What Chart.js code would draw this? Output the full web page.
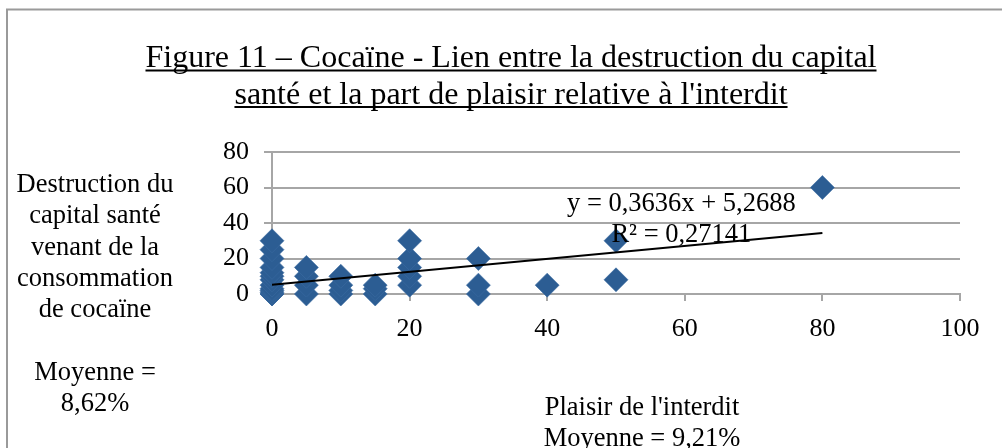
<!DOCTYPE html>
<html>
<head>
<meta charset="utf-8">
<script src="https://cdn.jsdelivr.net/npm/chart.js@4/dist/chart.umd.min.js"></script>
<style>
  html, body { margin: 0; padding: 0; background: #fff; }
  #wrap { width: 1002px; height: 448px; position: relative; }
</style>
</head>
<body>
<div id="wrap"><canvas id="chart" width="1002" height="448"></canvas></div>
<script>
// Plaisir de l'interdit (x) vs destruction du capital santé (y)
const plaisirX = [0, 0, 0, 0, 0, 0, 0, 0, 0, 0, 0, 0, 0,
                  5, 5, 5, 5,
                  10, 10, 10, 10,
                  15, 15, 15,
                  20, 20, 20, 20, 20,
                  30, 30, 30,
                  40,
                  50, 50,
                  80];
const destructionY = [0, 0, 1, 2, 3, 5, 8, 10, 12, 15, 20, 25, 30,
                      0, 5, 10, 15,
                      0, 2, 5, 10,
                      0, 3, 5,
                      5, 10, 15, 20, 30,
                      0, 5, 20,
                      5,
                      8, 30,
                      60];
const xTicks = [0, 20, 40, 60, 80, 100];
const yTicks = [0, 20, 40, 60, 80];

// trendline as printed by the spreadsheet
const trendSlope = 0.3636;
const trendIntercept = 5.2688;
const trendLabel = ['y = 0,3636x + 5,2688', 'R\u00b2 = 0,27141'];

const titleLines = ['Figure 11 \u2013 Coca\u00efne - Lien entre la destruction du capital',
                    'sant\u00e9 et la part de plaisir relative \u00e0 l\'interdit'];
const yTitleLines = ['Destruction du', 'capital sant\u00e9', 'venant de la', 'consommation',
                     'de coca\u00efne', '', 'Moyenne =', '8,62%'];
const xTitleLines = ['Plaisir de l\'interdit', 'Moyenne = 9,21%'];

const serif = '"Liberation Serif", "Times New Roman", serif';
const gridColor = '#a6a6a6';
const markerColor = '#2c5d93';

const points = plaisirX.map((x, i) => ({ x: x, y: destructionY[i] }));
const xMin = Math.min(...plaisirX);
const xMax = Math.max(...plaisirX);
const trendPoints = [xMin, xMax].map(x => ({ x: x, y: trendSlope * x + trendIntercept }));

// texts and frame drawn around the plot
const decorPlugin = {
    id: 'decor',
    afterDraw(chart) {
        const ctx = chart.ctx;
        const xs = chart.scales.x;
        const ys = chart.scales.y;
        ctx.save();

        // outer frame (only top/left visible)
        ctx.strokeStyle = '#9a9a9a';
        ctx.lineWidth = 2;
        ctx.beginPath();
        ctx.moveTo(7, 460);
        ctx.lineTo(7, 9.5);
        ctx.lineTo(1010, 9.5);
        ctx.stroke();

        ctx.fillStyle = '#000';
        ctx.textAlign = 'center';
        ctx.textBaseline = 'alphabetic';

        // underlined title
        ctx.font = '32px ' + serif;
        const titleBase = [67, 103.5];
        titleLines.forEach((line, i) => {
            ctx.fillText(line, 511, titleBase[i]);
            const w = ctx.measureText(line).width;
            ctx.fillRect(511 - w / 2, titleBase[i] + 2.5, w, 2);
        });

        ctx.font = '26.5px ' + serif;
        ctx.textBaseline = 'middle';
        yTitleLines.forEach((line, i) => {
            ctx.fillText(line, 95, 185 + i * 31.3);
        });
        ctx.textBaseline = 'alphabetic';
        xTitleLines.forEach((line, i) => {
            ctx.fillText(line, 642, 415 + i * 31);
        });

        // trendline equation
        ctx.textBaseline = 'middle';
        trendLabel.forEach((line, i) => {
            ctx.fillText(line, xs.getPixelForValue(59.5), ys.getPixelForValue(50.8) + i * 31);
        });
        ctx.restore();
    }
};

new Chart(document.getElementById('chart'), {
    type: 'scatter',
    data: {
        datasets: [
            {
                label: 'Destruction',
                data: points,
                pointStyle: 'rectRot',
                pointRadius: 12,
                pointHoverRadius: 12,
                backgroundColor: markerColor,
                borderColor: '#3a6ba1',
                borderWidth: 0.6,
                clip: false,
                order: 2
            },
            {
                label: 'Tendance',
                type: 'line',
                data: trendPoints,
                borderColor: '#000',
                borderWidth: 2,
                pointRadius: 0,
                fill: false,
                order: 1
            }
        ]
    },
    options: {
        responsive: false,
        animation: false,
        events: [],
        layout: { padding: { top: 152, right: 42, left: 0, bottom: 0 } },
        plugins: {
            legend: { display: false },
            tooltip: { enabled: false },
            title: { display: false }
        },
        scales: {
            x: {
                type: 'linear',
                min: 0,
                max: 100,
                afterFit(scale) { scale.height = 154; },
                afterBuildTicks(scale) { scale.ticks = xTicks.map(v => ({ value: v })); },
                grid: { drawOnChartArea: false, drawTicks: true, tickLength: 7, color: gridColor, lineWidth: 2 },
                border: { color: gridColor, width: 2 },
                ticks: { color: '#000', font: { family: serif, size: 26 }, padding: 13 }
            },
            y: {
                type: 'linear',
                min: 0,
                max: 80,
                afterFit(scale) { scale.width = 272; },
                afterBuildTicks(scale) { scale.ticks = yTicks.map(v => ({ value: v })); },
                grid: { color: gridColor, lineWidth: 2, tickLength: 8 },
                border: { color: gridColor, width: 2 },
                ticks: { color: '#000', font: { family: serif, size: 26 }, padding: 15 }
            }
        }
    },
    plugins: [decorPlugin]
});
</script>
</body>
</html>
